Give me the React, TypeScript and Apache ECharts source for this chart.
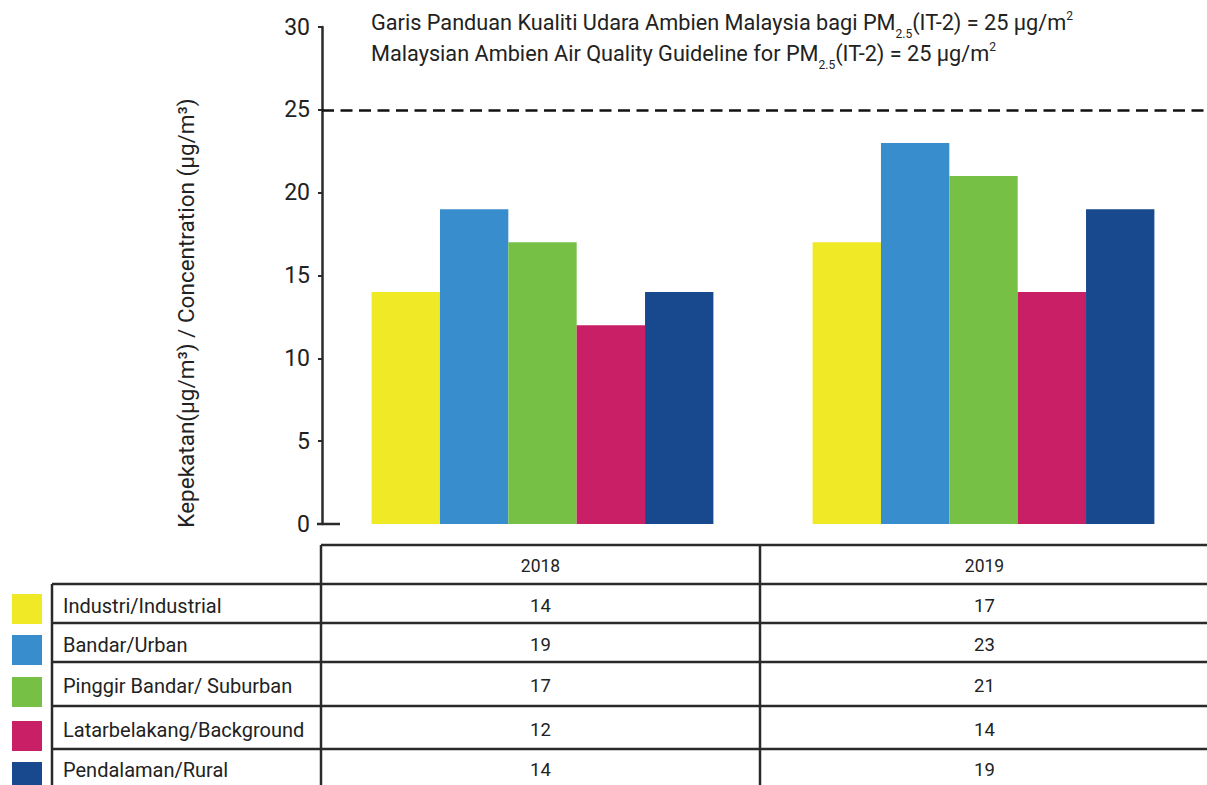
import { useEffect, useRef } from 'react';
import * as echarts from 'echarts';

const W = 1207;
const H = 785;

// ---- data ----
const years = ['2018', '2019'];
const categories = [
  'Industri/Industrial',
  'Bandar/Urban',
  'Pinggir Bandar/ Suburban',
  'Latarbelakang/Background',
  'Pendalaman/Rural',
];
const values2018 = [14, 19, 17, 12, 14];
const values2019 = [17, 23, 21, 14, 19];
const guideline = 25;
const yMin = 0;
const yMax = 30;
const yInterval = 5;
const titleLine1 = 'Garis Panduan Kualiti Udara Ambien Malaysia bagi PM{sub|2.5}(IT-2) = 25 µg/m{sup|2}';
const titleLine2 = 'Malaysian Ambien Air Quality Guideline for PM{sub|2.5}(IT-2) = 25 µg/m{sup|2}';
const yAxisName = 'Kepekatan(µg/m³) / Concentration (µg/m³)';

// ---- styles / layout ----
const colors = ['#F0E926', '#388DCD', '#75C045', '#C81F66', '#18488E'];
const FONT = 'Roboto, "Noto Sans", sans-serif';
const TEXT = '#222';
const LINE = '#2a2a2a';
const gridLeft = 322;
const gridTop = 27;
const gridBottomY = 524;
const tableTop = 545;
const rowLines = [584, 623, 662, 706, 749];
const tableLeft = 52;
const col1 = 321;
const col2 = 760;
const legendTops = [594, 635, 677, 721, 762];

function buildGraphic() {
  const g: any[] = [];
  const rich = {
    sub: { fontSize: 12, fontFamily: FONT, fill: TEXT, verticalAlign: 'bottom', lineHeight: 12, padding: [0, 0, -5, 0] },
    sup: { fontSize: 12, fontFamily: FONT, fill: TEXT, verticalAlign: 'top', lineHeight: 12 },
  };
  g.push({
    type: 'text', x: 371, y: 22,
    style: { text: titleLine1, fontSize: 21.7, fontFamily: FONT, fill: TEXT, verticalAlign: 'middle', lineHeight: 25, rich },
  });
  g.push({
    type: 'text', x: 371, y: 53,
    style: { text: titleLine2, fontSize: 21.7, fontFamily: FONT, fill: TEXT, verticalAlign: 'middle', lineHeight: 25, rich },
  });
  g.push({
    type: 'text', x: 186, y: 313, rotation: Math.PI / 2,
    style: { text: yAxisName, fontSize: 22.5, fontFamily: FONT, fill: TEXT, align: 'center', verticalAlign: 'middle' },
  });
  // bottom stub of axis
  g.push({ type: 'line', shape: { x1: 317, y1: gridBottomY, x2: 340, y2: gridBottomY }, style: { stroke: LINE, lineWidth: 2.5 } });

  // table lines
  const line = (x1: number, y1: number, x2: number, y2: number) =>
    g.push({ type: 'line', shape: { x1, y1, x2, y2 }, style: { stroke: LINE, lineWidth: 2.5 } });
  line(col1, tableTop, W, tableTop);
  rowLines.forEach((y) => line(tableLeft, y, W, y));
  line(col1, tableTop, col1, H);
  line(col2, tableTop, col2, H);
  line(tableLeft, rowLines[0], tableLeft, H);

  const c1 = (col1 + col2) / 2;
  const c2 = (col2 + W) / 2 + 1;
  const headerY = (tableTop + rowLines[0]) / 2 + 1;
  g.push({ type: 'text', x: c1, y: headerY, style: { text: years[0], fontSize: 17.5, fontFamily: FONT, fill: TEXT, align: 'center', verticalAlign: 'middle' } });
  g.push({ type: 'text', x: c2, y: headerY, style: { text: years[1], fontSize: 17.5, fontFamily: FONT, fill: TEXT, align: 'center', verticalAlign: 'middle' } });

  const rowBounds = [...rowLines, H + 2];
  categories.forEach((name, i) => {
    const yc = i < rowLines.length - 1 ? (rowBounds[i] + rowBounds[i + 1]) / 2 + 2 : 770;
    g.push({ type: 'rect', shape: { x: 12, y: legendTops[i], width: 30, height: 30 }, style: { fill: colors[i] } });
    g.push({ type: 'text', x: 63, y: yc, style: { text: name, fontSize: 20, fontFamily: FONT, fill: TEXT, verticalAlign: 'middle' } });
    g.push({ type: 'text', x: c1, y: yc, style: { text: String(values2018[i]), fontSize: 18.5, fontFamily: FONT, fill: TEXT, align: 'center', verticalAlign: 'middle' } });
    g.push({ type: 'text', x: c2, y: yc, style: { text: String(values2019[i]), fontSize: 18.5, fontFamily: FONT, fill: TEXT, align: 'center', verticalAlign: 'middle' } });
  });
  return g;
}

export default function App() {
  const ref = useRef<HTMLDivElement>(null);
  useEffect(() => {
    const chart = echarts.init(ref.current!, null, { renderer: 'svg', width: W, height: H });
    const series: any[] = categories.map((name, i) => ({
      type: 'bar',
      name,
      data: [values2018[i], values2019[i]],
      itemStyle: { color: colors[i] },
      barGap: '0%',
      barCategoryGap: '22.5%',
      silent: true,
    }));
    series[0].markLine = {
      silent: true,
      symbol: ['none', 'none'],
      label: { show: false },
      lineStyle: { color: '#111', width: 2.5, type: [12, 6.5] },
      data: [{ yAxis: guideline }],
    };
    chart.setOption({
      animation: false,
      backgroundColor: '#fff',
      textStyle: { fontFamily: FONT },
      grid: { left: gridLeft, right: 3, top: gridTop, bottom: H - gridBottomY, containLabel: false },
      xAxis: {
        type: 'category',
        data: years,
        axisLine: { show: false },
        axisTick: { show: false },
        axisLabel: { show: false },
      },
      yAxis: {
        type: 'value',
        min: yMin,
        max: yMax,
        interval: yInterval,
        splitLine: { show: false },
        axisLine: { show: true, lineStyle: { color: LINE, width: 2.5 } },
        axisTick: { show: true, length: 4, lineStyle: { color: LINE, width: 2 } },
        axisLabel: { fontSize: 23, color: TEXT, fontFamily: FONT, margin: 12 },
      },
      series,
      graphic: buildGraphic(),
    });
    return () => chart.dispose();
  }, []);
  return (
    <div
      ref={ref}
      style={{ position: 'absolute', left: 0, top: 0, width: W, height: H, background: '#fff' }}
    />
  );
}
